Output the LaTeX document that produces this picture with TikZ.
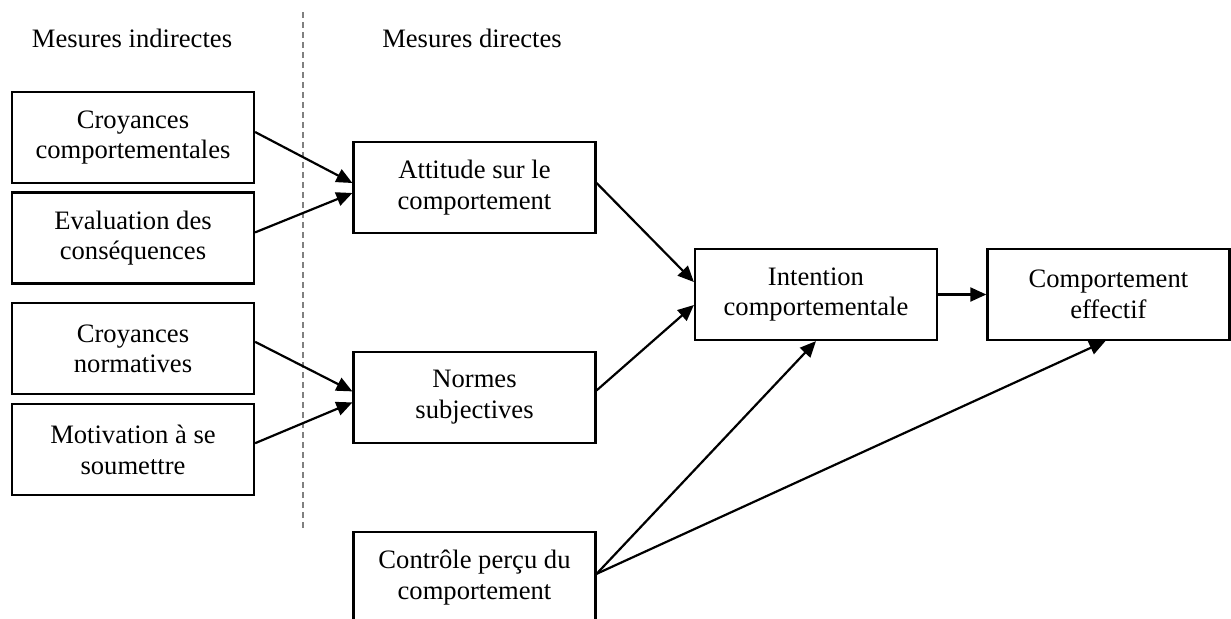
\documentclass[tikz,border=0pt]{standalone}
\usepackage{fontspec}
\setmainfont{Liberation Serif}
\usetikzlibrary{arrows.meta}
\usetikzlibrary{positioning}
\tikzset{
    box/.style={
        draw,
        line width=1.1pt,
        align=center,
        minimum width=121pt,
        minimum height=45.5pt,
        inner sep=0pt
    },
    arr/.style={
        -{Triangle[length=8pt,width=7pt]},
        line width=1.1pt
    },
    dashsep/.style={
        draw=gray,
        line width=0.6pt,
        dash pattern=on 3pt off 2pt
    }
}

\begin{document}
\begin{tikzpicture}[x=0.5pt,y=-0.5pt,font=\fontsize{13.3}{15.3}\selectfont]
            \useasboundingbox (0,0) rectangle (1231,618);
            \clip (0,0) rectangle (1231,618);

            \node[anchor=base] (lind) at (132,47) {Mesures indirectes};
            \node[anchor=base] (ldir) at (472,47) {Mesures directes};
            \coordinate (dtop) at (303,12);
            \coordinate (dbot) at (303,530);
            \draw[dashsep] (dtop) -- (dbot);

            % mesures indirectes
            \node[box] (cc) at (133,137.5) {Croyances\\comportementales};
            \node[box,below=3.6pt of cc] (ec) {Evaluation des\\conséquences};
            \node[box,below=8.85pt of ec] (cn) {Croyances\\normatives};
            \node[box,below=3.85pt of cn] (ms) {Motivation à se\\soumettre};

            % mesures directes
            \node[box] (att) at (474.5,187.5) {Attitude sur le\\comportement};
            \node[box,below=58.35pt of att] (nor) {Normes\\subjectives};
            \node[box,below=43.35pt of nor] (ctl) {Contrôle perçu du\\comportement};

            \node[box] (int) at (816,294.5) {Intention\\comportementale};
            \node[box,right=24.1pt of int] (eff) {Comportement\\effectif};

            \foreach \s/\t/\a/\b in {cc/att/2.75/2.25,ec/att/2.75/-2.75,cn/nor/3.5/3,ms/nor/3.25/-2.5}
              \draw[arr] ([yshift=\a pt]\s.east) -- ([yshift=\b pt]\t.west);

            \draw[arr] ([yshift=2.25pt]att.east) -- ([yshift=6.25pt]int.west);
            \draw[arr] ([yshift=3.5pt]nor.east) -- ([yshift=-5.25pt]int.west);
            \draw[arr] (int.east) -- (eff.west);
            \draw[arr] ([yshift=1.75pt]ctl.east) -- (int.south);
            \draw[arr] ([yshift=1.75pt]ctl.east) -- ([xshift=-1.5pt]eff.south);
          \end{tikzpicture}
\end{document}
